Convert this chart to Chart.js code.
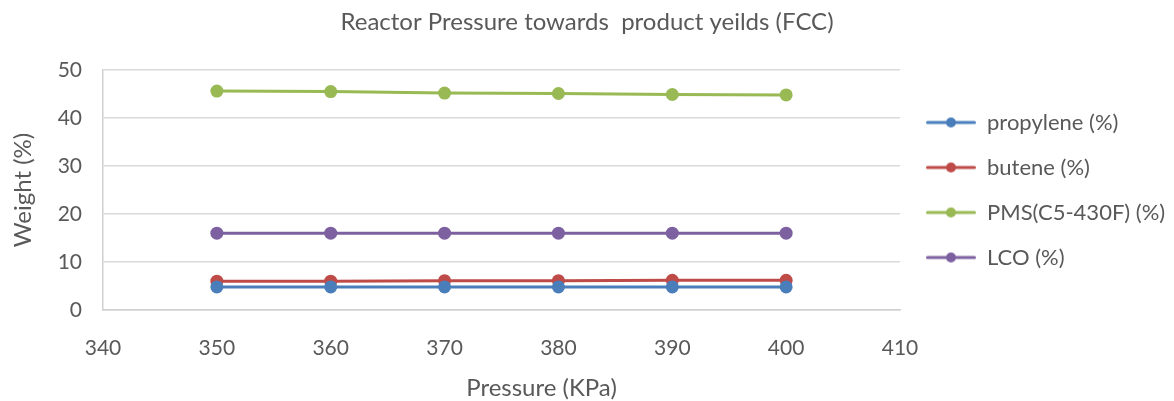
<!DOCTYPE html>
<html>
<head>
<meta charset="utf-8">
<script src="https://cdn.jsdelivr.net/npm/chart.js@4.4.1/dist/chart.umd.min.js"></script>
<style>
  html, body { margin: 0; padding: 0; background: #ffffff; }
  #wrap { width: 1174px; height: 401px; }
</style>
</head>
<body>
<div id="wrap"><canvas id="c" width="1174" height="401"></canvas></div>
<script>
// ---- data ----
const pressures = [350, 360, 370, 380, 390, 400];
const propylene = [4.8, 4.8, 4.8, 4.8, 4.8, 4.8];
const butene = [6.0, 6.0, 6.1, 6.1, 6.2, 6.2];
const pms = [45.6, 45.5, 45.2, 45.1, 44.9, 44.8];
const lco = [16.0, 16.0, 16.0, 16.0, 16.0, 16.0];
const seriesNames = ['propylene (%)', 'butene (%)', 'PMS(C5-430F) (%)', 'LCO (%)'];
const xTicks = [340, 350, 360, 370, 380, 390, 400, 410];
const yTicks = [0, 10, 20, 30, 40, 50];
const titleText = 'Reactor Pressure towards  product yeilds (FCC)';
const xTitle = 'Pressure (KPa)';
const yTitle = 'Weight (%)';

const colors = ['#4A7EBB', '#BE4B48', '#98B954', '#7D60A0'];
const FONT = 'Lato';
const TEXT = '#595959';

function toPoints(vals) { return pressures.map((p, i) => ({ x: p, y: vals[i] })); }
const allSeries = [propylene, butene, pms, lco];

function legendMarker(color) {
  const cv = document.createElement('canvas');
  cv.width = 50; cv.height = 12;
  const g = cv.getContext('2d');
  g.strokeStyle = color; g.lineWidth = 3; g.lineCap = 'round';
  g.beginPath(); g.moveTo(1.5, 6); g.lineTo(48.5, 6); g.stroke();
  g.fillStyle = color;
  g.beginPath(); g.arc(25, 6, 5, 0, Math.PI * 2); g.fill();
  return cv;
}
const markers = colors.map(legendMarker);

const layoutFix = {
  id: 'layoutFix',
  beforeLayout(chart) {
    const lg = chart.legend;
    if (lg && !lg._fixed) {
      const orig = lg.fit;
      lg.fit = function () { orig.call(this); this.width = 274; };
      lg._fixed = true;
    }
  },
  afterLayout(chart) {
    if (chart.legend) { chart.legend.left += 3; }
  },
  beforeDraw(chart) {
    const s = chart.scales.x;
    if (s && !s._shifted) {
      const d = s.drawTitle;
      s.drawTitle = function () {
        this.ctx.save(); this.ctx.translate(40, 0); d.apply(this, arguments); this.ctx.restore();
      };
      s._shifted = true;
    }
  }
};

const defaultGen = Chart.defaults.plugins.legend.labels.generateLabels;

new Chart(document.getElementById('c'), {
  type: 'line',
  data: {
    datasets: allSeries.map((vals, i) => ({
      label: seriesNames[i],
      data: toPoints(vals),
      borderColor: colors[i],
      backgroundColor: colors[i],
      borderWidth: 3,
      pointRadius: 6.5,
      pointHoverRadius: 6.5,
      pointBorderWidth: 0,
      pointBackgroundColor: colors[i],
      tension: 0,
      fill: false
    }))
  },
  options: {
    responsive: false,
    animation: false,
    devicePixelRatio: 1,
    layout: { padding: 0 },
    plugins: {
      title: {
        display: true,
        text: titleText,
        color: TEXT,
        font: { family: FONT, size: 24, weight: 'normal' },
        padding: { top: 8, bottom: 33.2 }
      },
      legend: {
        display: true,
        position: 'right',
        fullSize: false,
        align: 'center',
        labels: {
          color: TEXT,
          font: { family: FONT, size: 22 },
          usePointStyle: true,
          pointStyleWidth: 50,
          boxHeight: 12,
          padding: 23,
          generateLabels(chart) {
            const items = defaultGen(chart);
            items.forEach((it, i) => { it.pointStyle = markers[i]; });
            return items;
          }
        }
      },
      tooltip: { enabled: false }
    },
    scales: {
      x: {
        type: 'linear',
        min: 340, max: 410,
        afterBuildTicks(scale) { scale.ticks = xTicks.map(v => ({ value: v })); },
        afterFit(scale) { scale.height = 91; },
        grid: { display: false, drawTicks: false },
        border: { display: true, color: '#D0D0D0', width: 1.5 },
        ticks: { color: TEXT, font: { family: FONT, size: 21 }, padding: 26, maxRotation: 0, autoSkip: false },
        title: { display: true, text: xTitle, color: TEXT, font: { family: FONT, size: 24 }, padding: { top: 0, bottom: -2 } }
      },
      y: {
        min: 0, max: 50,
        afterBuildTicks(scale) { scale.ticks = yTicks.map(v => ({ value: v })); },
        afterFit(scale) { scale.width = 103; },
        grid: { color: '#D9D9D9', lineWidth: 1.5, drawTicks: false },
        border: { display: true, color: '#D0D0D0', width: 1.5 },
        ticks: { color: TEXT, font: { family: FONT, size: 21 }, padding: 21 },
        title: { display: true, text: yTitle, color: TEXT, font: { family: FONT, size: 24 }, padding: { top: 9, bottom: 0 } }
      }
    }
  },
  plugins: [layoutFix]
});
</script>
</body>
</html>
